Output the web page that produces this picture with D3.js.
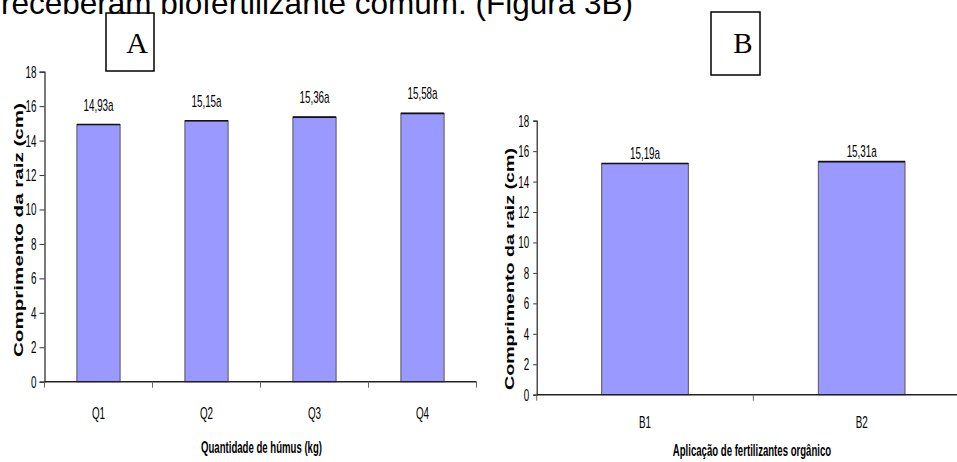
<!DOCTYPE html>
<html>
<head>
<meta charset="utf-8">
<script src="https://cdn.jsdelivr.net/npm/d3@7/dist/d3.min.js"></script>
<style>
  html, body { margin: 0; padding: 0; background: #fff; }
  svg { display: block; }
</style>
</head>
<body>
<svg id="fig" width="957" height="462"></svg>
<script>
// Root length (cm) by humus amount (A) and by organic fertilizer (B)
const catsA = ["Q1", "Q2", "Q3", "Q4"];
const valsA = [14.93, 15.15, 15.36, 15.58];
const labelsA = ["14,93a", "15,15a", "15,36a", "15,58a"];

const catsB = ["B1", "B2"];
const valsB = [15.19, 15.31];
const labelsB = ["15,19a", "15,31a"];

const yTicks = [0, 2, 4, 6, 8, 10, 12, 14, 16, 18];

const svg = d3.select("#fig");
const SANS = "'Liberation Sans', Arial, sans-serif";
const SERIF = "'Liberation Serif', 'Times New Roman', serif";
const BAR_FILL = "#9999ff";

// caption line running off the top of the page
svg.append("text")
  .attr("x", 633).attr("y", 13.5)
  .attr("text-anchor", "end")
  .attr("font-family", SANS).attr("font-size", 31.5)
  .attr("fill", "#000")
  .text("receberam biofertilizante comum. (Figura 3B)");

// narrow, tall text used for ticks and labels
function tallText(sel, x, y, str, opts = {}) {
  return sel.append("text")
    .attr("transform", `translate(${x},${y}) scale(${opts.sx || 0.82},${opts.sy || 1.4})`)
    .attr("text-anchor", opts.anchor || "middle")
    .attr("font-family", SANS)
    .attr("font-size", opts.size || 12)
    .attr("font-weight", opts.weight || "normal")
    .attr("fill", "#000")
    .text(str);
}

function panel(cfg) {
  const g = svg.append("g");
  const y = d3.scaleLinear().domain([0, 18]).range([cfg.y0, cfg.y1]);
  const x = d3.scaleBand().domain(cfg.cats).range([cfg.x0, cfg.x1]).padding(0);
  const bw = x.bandwidth();

  // bars
  const bars = g.append("g").selectAll("g").data(cfg.vals).join("g");
  bars.append("rect")
    .attr("x", (d, i) => x(cfg.cats[i]) + bw * 0.3)
    .attr("width", bw * 0.4)
    .attr("y", d => y(d))
    .attr("height", d => y(0) - y(d))
    .attr("fill", BAR_FILL)
    .attr("stroke", "#555").attr("stroke-width", 1);
  bars.append("line")
    .attr("x1", (d, i) => x(cfg.cats[i]) + bw * 0.3)
    .attr("x2", (d, i) => x(cfg.cats[i]) + bw * 0.7)
    .attr("y1", d => y(d)).attr("y2", d => y(d))
    .attr("stroke", "#111").attr("stroke-width", 1.6);

  // value labels
  cfg.vals.forEach((v, i) => {
    tallText(g, x(cfg.cats[i]) + bw / 2, y(v) - cfg.labelGap, cfg.labels[i]);
  });

  // y axis
  const ya = g.append("g")
    .attr("transform", `translate(${cfg.x0},0)`)
    .call(d3.axisLeft(y).tickValues(yTicks).tickSize(cfg.tick).tickFormat(""));
  ya.select(".domain").attr("stroke", "#222").attr("stroke-width", 1.2);
  ya.selectAll(".tick line").attr("stroke", "#333");
  yTicks.forEach(t => {
    tallText(g, cfg.x0 - cfg.labelOff, y(t) + 6, String(t), { anchor: "end" });
  });

  // x axis with category boundary ticks
  const xa = g.append("g")
    .attr("transform", `translate(0,${cfg.y0})`);
  xa.append("line")
    .attr("x1", cfg.x0).attr("x2", cfg.x1)
    .attr("stroke", "#222").attr("stroke-width", 1.6);
  const edges = cfg.cats.map(c => x(c)).concat([cfg.x1]);
  xa.selectAll("line.edge").data(edges).join("line")
    .attr("class", "edge")
    .attr("x1", d => d).attr("x2", d => d)
    .attr("y1", 0).attr("y2", 6)
    .attr("stroke", "#666").attr("stroke-width", 1);
  cfg.cats.forEach(c => {
    tallText(g, x(c) + bw / 2, cfg.catY, c);
  });

  // axis titles
  tallText(g, cfg.xTitleX, cfg.xTitleY, cfg.xTitle, { sx: 0.8, weight: "bold" });
  g.append("text")
    .attr("transform", `translate(${cfg.yTitleX},${cfg.yTitleC}) rotate(-90)`)
    .attr("text-anchor", "middle")
    .attr("font-family", SANS).attr("font-weight", "bold")
    .attr("font-size", 13)
    .attr("textLength", cfg.yTitleLen)
    .attr("lengthAdjust", "spacingAndGlyphs")
    .attr("x", 0).attr("y", 0)
    .text("Comprimento da raiz (cm)");

  // panel letter in a box
  g.append("rect")
    .attr("x", cfg.box[0]).attr("y", cfg.box[1])
    .attr("width", cfg.box[2]).attr("height", cfg.box[3])
    .attr("fill", "none").attr("stroke", "#000").attr("stroke-width", 1.5);
  g.append("text")
    .attr("x", cfg.box[0] + cfg.box[2] * 0.65).attr("y", 53)
    .attr("text-anchor", "middle")
    .attr("font-family", SERIF).attr("font-size", cfg.letterSize)
    .attr("fill", "#000")
    .text(cfg.letter);
}

panel({
  cats: catsA, vals: valsA, labels: labelsA,
  x0: 44.5, x1: 476.5, y0: 381.7, y1: 71.7,
  tick: 5, labelOff: 8, labelGap: 14,
  catY: 419, xTitle: "Quantidade de húmus (kg)", xTitleX: 261.5, xTitleY: 453,
  yTitleX: 22.5, yTitleC: 230, yTitleLen: 254,
  box: [106, 13, 48, 58], letter: "A", letterSize: 30
});

panel({
  cats: catsB, vals: valsB, labels: labelsB,
  x0: 536.7, x1: 970, y0: 394.7, y1: 120.7,
  tick: 3.5, labelOff: 7.4, labelGap: 4.5,
  catY: 428, xTitle: "Aplicação de fertilizantes orgânico", xTitleX: 752, xTitleY: 456,
  yTitleX: 513.5, yTitleC: 269, yTitleLen: 242,
  box: [711, 12, 49, 63], letter: "B", letterSize: 29
});
</script>
</body>
</html>
